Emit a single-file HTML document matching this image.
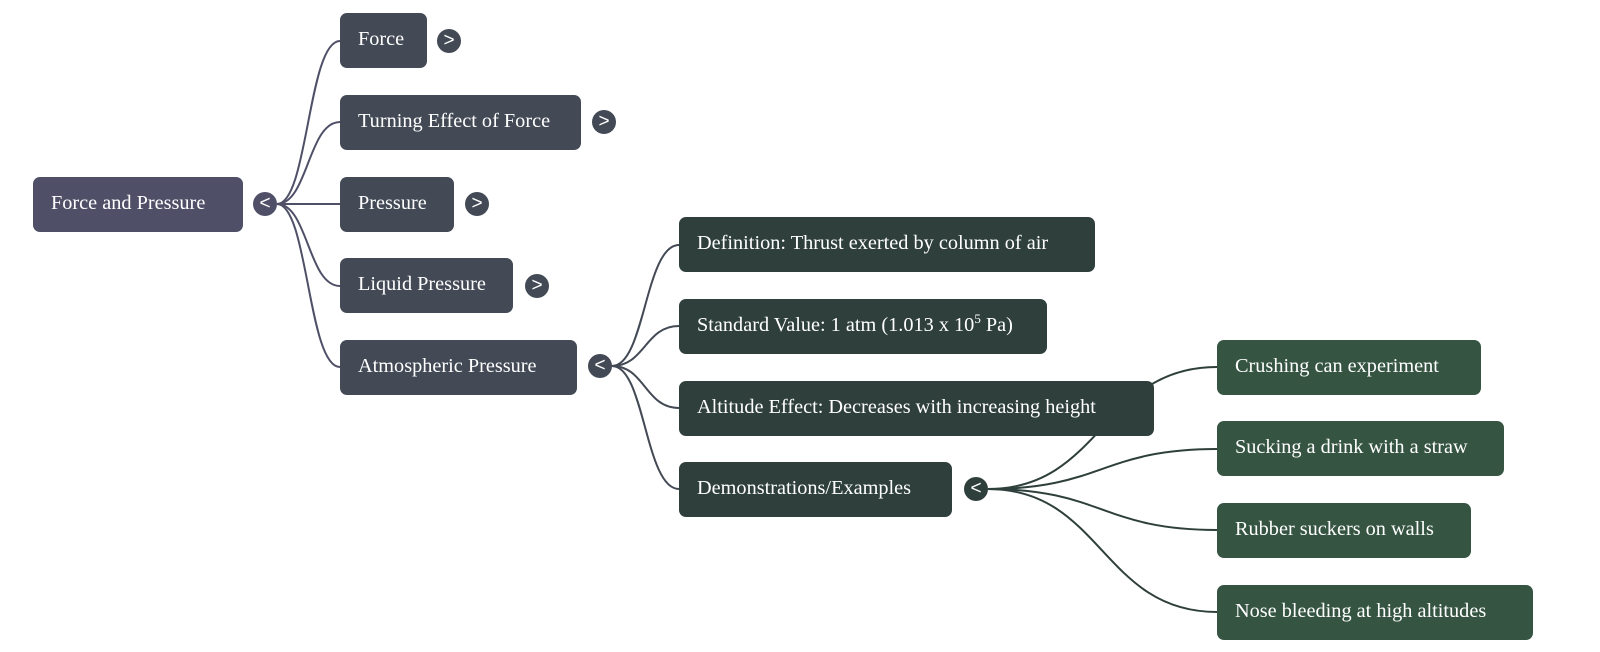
<!DOCTYPE html>
<html><head><meta charset="utf-8"><style>
body{margin:0;width:1600px;height:652px;background:#fff;position:relative;overflow:hidden;font-family:"Liberation Serif",serif;}
.n{position:absolute;height:55px;line-height:52px;border-radius:7px;color:#fff;font-size:20.3px;padding-left:18px;box-sizing:border-box;white-space:nowrap;}
.r{background:#4f5068}.a{background:#434a55}.b{background:#2f403c}.c{background:#355442}
.t{position:absolute;width:24px;height:24px;border-radius:50%;color:#fff;font-size:19px;line-height:23px;text-align:center;font-family:"Liberation Sans",sans-serif;}
sup{font-size:13px;line-height:0;}
svg{position:absolute;left:0;top:0}
</style></head><body>
<svg width="1600" height="652" fill="none" stroke-width="2">
<g stroke="#4f5068">
<path d="M277,204 C308,204 308,41 340,41"/>
<path d="M277,204 C308,204 308,122 340,122"/>
<path d="M277,204 L340,204"/>
<path d="M277,204 C308,204 308,286 340,286"/>
<path d="M277,204 C308,204 308,367 340,367"/>
</g>
<g stroke="#434a55">
<path d="M612,366 C645,366 645,245 679,245"/>
<path d="M612,366 C645,366 645,326 679,326"/>
<path d="M612,366 C645,366 645,408 679,408"/>
<path d="M612,366 C645,366 645,489 679,489"/>
</g>
<g stroke="#2f403c">
<path d="M988,489 C1102,489 1102,367 1217,367"/>
<path d="M988,489 C1102,489 1102,449 1217,449"/>
<path d="M988,489 C1102,489 1102,530 1217,530"/>
<path d="M988,489 C1102,489 1102,612 1217,612"/>
</g>
</svg>
<div class="n r" style="left:33px;top:177px;width:210px">Force and Pressure</div>
<div class="t r" style="left:253px;top:192px">&lt;</div>
<div class="n a" style="left:340px;top:13px;width:87px">Force</div>
<div class="t a" style="left:437px;top:29px">&gt;</div>
<div class="n a" style="left:340px;top:95px;width:241px">Turning Effect of Force</div>
<div class="t a" style="left:592px;top:110px">&gt;</div>
<div class="n a" style="left:340px;top:177px;width:114px">Pressure</div>
<div class="t a" style="left:465px;top:192px">&gt;</div>
<div class="n a" style="left:340px;top:258px;width:173px">Liquid Pressure</div>
<div class="t a" style="left:525px;top:274px">&gt;</div>
<div class="n a" style="left:340px;top:340px;width:237px">Atmospheric Pressure</div>
<div class="t a" style="left:588px;top:354px">&lt;</div>
<div class="n b" style="left:679px;top:217px;width:416px">Definition: Thrust exerted by column of air</div>
<div class="n b" style="left:679px;top:299px;width:368px">Standard Value: 1 atm (1.013 x 10<sup>5</sup> Pa)</div>
<div class="n b" style="left:679px;top:381px;width:475px">Altitude Effect: Decreases with increasing height</div>
<div class="n b" style="left:679px;top:462px;width:273px">Demonstrations/Examples</div>
<div class="t b" style="left:964px;top:477px">&lt;</div>
<div class="n c" style="left:1217px;top:340px;width:264px">Crushing can experiment</div>
<div class="n c" style="left:1217px;top:421px;width:287px">Sucking a drink with a straw</div>
<div class="n c" style="left:1217px;top:503px;width:254px">Rubber suckers on walls</div>
<div class="n c" style="left:1217px;top:585px;width:316px">Nose bleeding at high altitudes</div>
</body></html>
